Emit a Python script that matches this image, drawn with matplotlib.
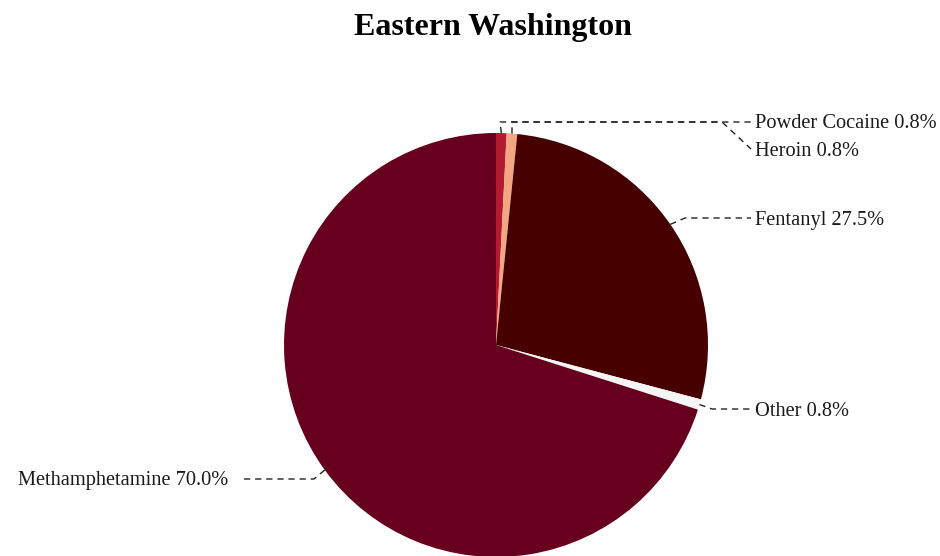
import matplotlib
matplotlib.use("Agg")
import matplotlib.pyplot as plt
import numpy as np

plt.rcParams['lines.scale_dashes'] = False

title = "Eastern Washington"
categories = ["Powder Cocaine", "Heroin", "Fentanyl", "Other", "Methamphetamine"]
values = [0.8, 0.8, 27.5, 0.8, 70.0]
colors = ["#b31b30", "#f4a582", "#470000", "#f5f5f5", "#67001f"]

W, H = 940, 556
fig = plt.figure(figsize=(W / 100, H / 100), dpi=100)
ax = fig.add_axes([0, 0, 1, 1])

cx, cy, r = 496, H - 345, 212
wedges, _ = ax.pie(values, colors=colors, startangle=90, counterclock=False,
                   center=(cx, cy), radius=r, frame=True,
                   wedgeprops=dict(linewidth=0))
ax.set_xlim(0, W)
ax.set_ylim(0, H)
ax.set_aspect("equal")
ax.axis("off")

# layout: label anchor (pixel coords, y down), side, elbow points (pixel coords)
layout = {
    "Powder Cocaine": dict(text=(755, 122), ha="left", elbows=[(500, 122)]),
    "Heroin": dict(text=(755, 149), ha="left", elbows=[(512, 122), (722, 122)]),
    "Fentanyl": dict(text=(755, 218), ha="left", elbows=[(685, 218)]),
    "Other": dict(text=(755, 409), ha="left", elbows=[(712, 409)]),
    "Methamphetamine": dict(text=(228, 479), ha="right", elbows=[(314, 479)]),
}

font = dict(family=["Liberation Serif", "DejaVu Serif"], fontsize=14.7, color="#1a1a1a")
for w, cat, v in zip(wedges, categories, values):
    ang = np.deg2rad((w.theta1 + w.theta2) / 2)
    ax_pt = (cx + r * np.cos(ang), cy + r * np.sin(ang))
    L = layout[cat]
    tx, ty = L["text"][0], H - L["text"][1]
    end_x = tx - 4 if L["ha"] == "left" else tx + 12
    pts = [ax_pt] + [(ex, H - ey) for ex, ey in L["elbows"]] + [(end_x, ty)]
    xs, ys = zip(*pts)
    ax.plot(xs, ys, color="#222222", lw=1.0, linestyle=(0, (4.5, 3.5)),
            clip_on=False)
    ax.text(tx, ty - 2, f"{cat} {v:.1f}%", ha=L["ha"], va="center", **font)

fig.text(493 / W, 1 - 27 / H, title, ha="center", va="center",
         family=["Liberation Serif", "DejaVu Serif"], fontsize=23, fontweight="bold")

fig.savefig("out.png", dpi=100, facecolor="white")
